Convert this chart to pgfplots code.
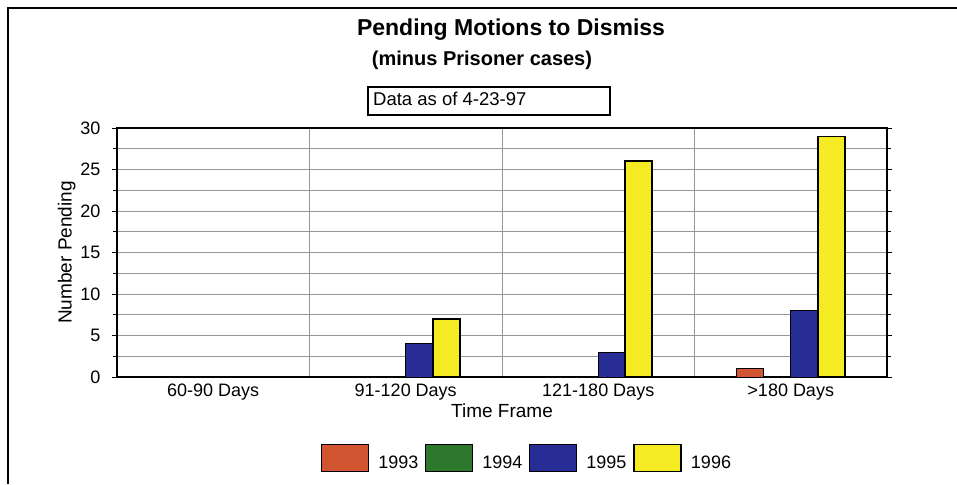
\documentclass[border=0pt]{standalone}
\usepackage{pgfplots}
\pgfplotsset{compat=1.18}
\usepackage{fontspec}
\setmainfont{Liberation Sans}

\definecolor{c93}{RGB}{210,85,50}
\definecolor{c94}{RGB}{45,120,45}
\definecolor{c95}{RGB}{40,45,150}
\definecolor{c96}{RGB}{245,235,35}
\definecolor{gridgray}{RGB}{150,150,150}

\begin{document}
\begin{tikzpicture}
\useasboundingbox (0pt,0pt) rectangle (957pt,-484pt);
% outer frame (top and left edges)
\draw[line width=1.8pt] (8pt,-484pt) -- (8pt,-8pt) -- (957pt,-8pt);

% titles
\node[font=\bfseries\fontsize{23}{26}\selectfont] at (511pt,-30pt) {Pending Motions to Dismiss};
\node[font=\bfseries\fontsize{20}{23}\selectfont] at (482pt,-60pt) {(minus Prisoner cases)};
\draw[line width=1.2pt] (368pt,-87pt) rectangle (610pt,-115pt);
\node[anchor=west,font=\fontsize{18.5}{21}\selectfont,inner sep=0pt] at (373pt,-99pt) {Data as of 4-23-97};

\begin{axis}[
  at={(117pt,-377pt)}, anchor=south west,
  scale only axis, width=770pt, height=249pt,
  ybar=0pt, bar width=27pt,
  xmin=-0.5, xmax=3.5, ymin=0, ymax=30,
  xtick={0,1,2,3},
  xticklabels={60-90 Days,91-120 Days,121-180 Days,>180 Days},
  x tick style={draw=none},
  minor xtick={0.5,1.5,2.5},
  xminorgrids,
  minor x grid style={gridgray, line width=0.7pt},
  ytick={0,5,...,30},
  minor ytick={2.5,7.5,...,27.5},
  ymajorgrids, yminorgrids,
  major y grid style={gridgray, line width=0.9pt},
  minor y grid style={gridgray, line width=0.9pt},
  tick align=outside,
  ytick pos=both,
  major tick length=5pt, minor tick length=4pt,
  y tick style={black, line width=0.8pt},
  axis line style={black, line width=1.6pt},
  /pgf/number format/assume math mode=true,
  tick label style={font=\fontsize{18}{21}\selectfont},
  yticklabel style={xshift=-8pt},
  xticklabel style={yshift=2pt},
  xlabel={Time Frame},
  ylabel={Number Pending},
  label style={font=\fontsize{19}{22}\selectfont},
  xlabel style={yshift=3pt},
  ylabel style={yshift=-2pt},
  legend columns=4,
  legend style={at={(0.265,-0.325)}, anchor=west, draw=none, fill=none,
    inner sep=0pt, font=\fontsize{18}{21}\selectfont,
    nodes={inner sep=0pt},
    /tikz/every odd column/.append style={column sep=9pt},
    /tikz/every even column/.append style={column sep=7pt}},
  legend image code/.code={\draw[#1] (0pt,-8pt) rectangle (47pt,19pt);},
]
\addplot[fill=c93, draw=black, line width=1pt] coordinates {(0,0) (1,0) (2,0) (3,1)};
\addplot[fill=c94, draw=black, line width=1pt] coordinates {(0,0) (1,0) (2,0) (3,0)};
\addplot[fill=c95, draw=black, line width=1pt] coordinates {(0,0) (1,4) (2,3) (3,8)};
\addplot[fill=c96, draw=black, line width=1.6pt] coordinates {(0,0) (1,7) (2,26) (3,29)};
\legend{1993,1994,1995,1996}
\end{axis}
\end{tikzpicture}
\end{document}
